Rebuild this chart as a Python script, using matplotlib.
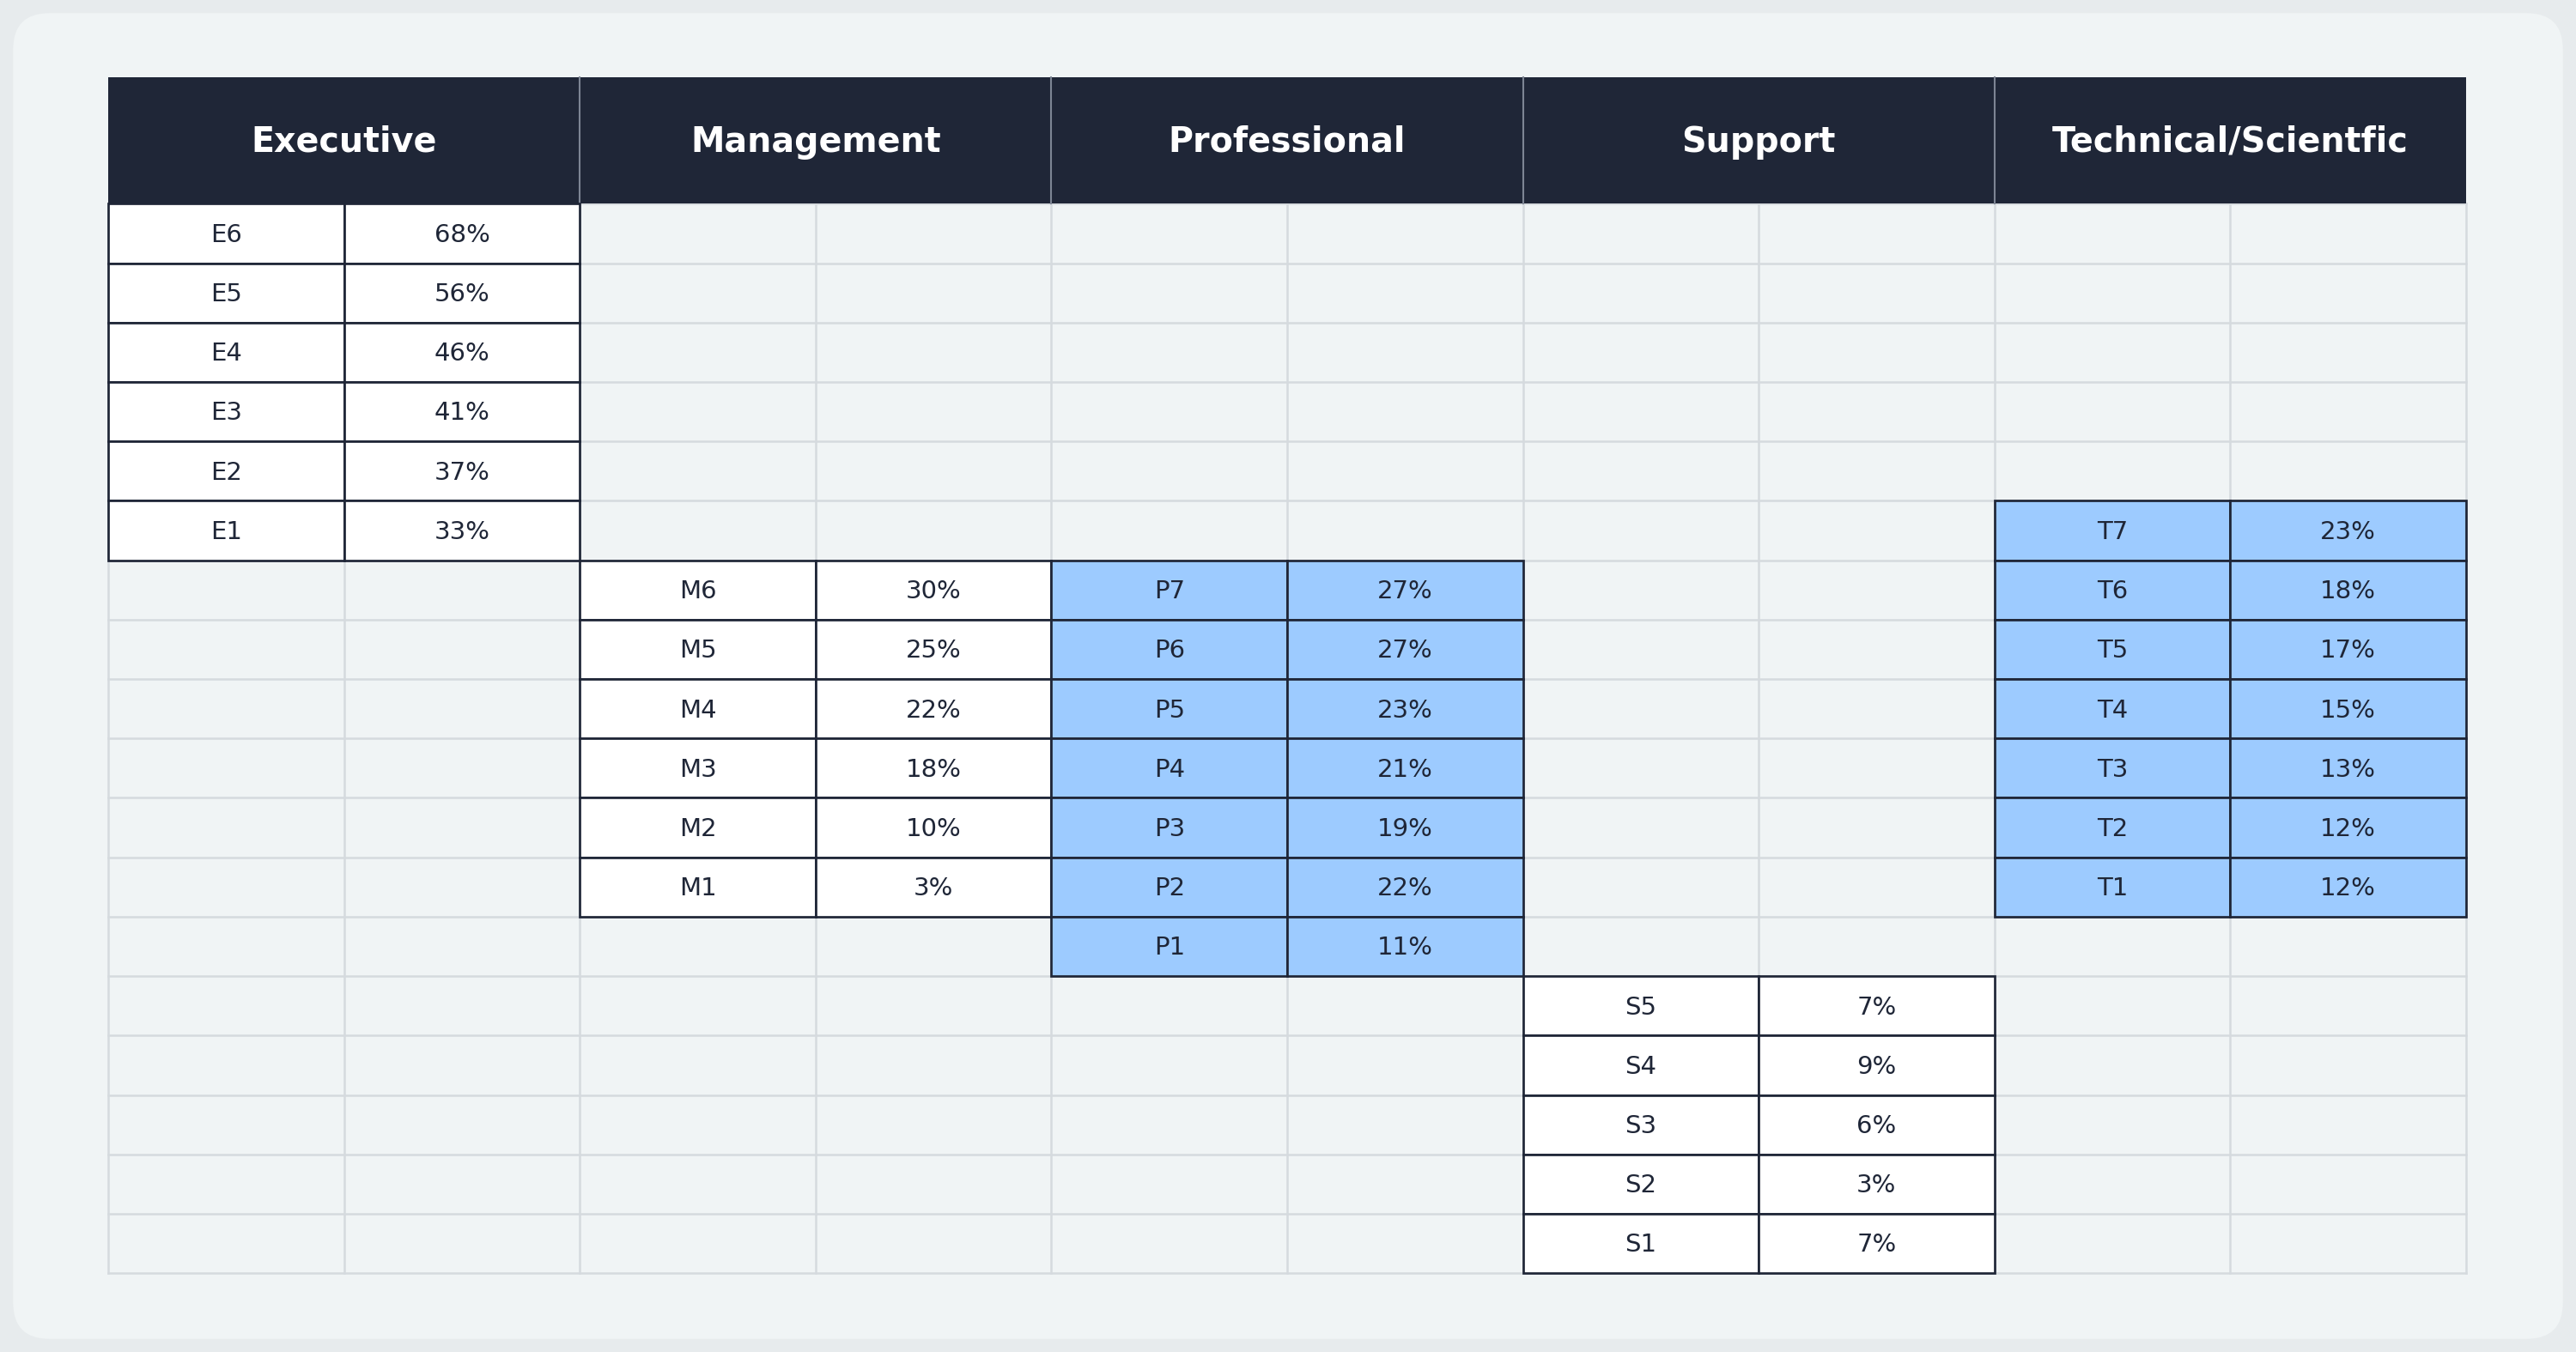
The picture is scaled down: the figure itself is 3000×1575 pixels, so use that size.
import matplotlib.pyplot as plt
from matplotlib.patches import Rectangle, FancyBboxPatch

# job families and their grade bands (top grade first)
families = ["Executive", "Management", "Professional", "Support", "Technical/Scientfic"]
exec_grades = ["E6", "E5", "E4", "E3", "E2", "E1"]
exec_values = ["68%", "56%", "46%", "41%", "37%", "33%"]
mgmt_grades = ["M6", "M5", "M4", "M3", "M2", "M1"]
mgmt_values = ["30%", "25%", "22%", "18%", "10%", "3%"]
prof_grades = ["P7", "P6", "P5", "P4", "P3", "P2", "P1"]
prof_values = ["27%", "27%", "23%", "21%", "19%", "22%", "11%"]
supp_grades = ["S5", "S4", "S3", "S2", "S1"]
supp_values = ["7%", "9%", "6%", "3%", "7%"]
tech_grades = ["T7", "T6", "T5", "T4", "T3", "T2", "T1"]
tech_values = ["23%", "18%", "17%", "15%", "13%", "12%", "12%"]

# (grades, values, first row, highlighted)
blocks = [
    (exec_grades, exec_values, 0, False),
    (mgmt_grades, mgmt_values, 6, False),
    (prof_grades, prof_values, 6, True),
    (supp_grades, supp_values, 13, False),
    (tech_grades, tech_values, 5, True),
]

W, H = 1568, 823
x0, x1 = 66, 1501
head_top, head_bot = 47, 124
n_rows = 18
row_h = (775 - head_bot) / n_rows
col_w = (x1 - x0) / 10

fig = plt.figure(figsize=(20, 10.5), dpi=150)
ax = fig.add_axes([0, 0, 1, 1])
ax.set_xlim(0, W)
ax.set_ylim(H, 0)
ax.axis("off")
fig.patch.set_facecolor("#e7ebed")
ax.add_patch(FancyBboxPatch((8, 8), W - 16, H - 16,
                            boxstyle="round,pad=0,rounding_size=22",
                            fc="#f0f4f5", ec="none"))

# faint grid for the empty body
for r in range(n_rows + 1):
    y = head_bot + r * row_h
    ax.plot([x0, x1], [y, y], color="#d5dade", lw=1.2, zorder=1)
for c in range(11):
    x = x0 + c * col_w
    ax.plot([x, x], [head_bot, 775], color="#d5dade", lw=1.2, zorder=1)

# header
ax.add_patch(Rectangle((x0, head_top), x1 - x0, head_bot - head_top,
                       fc="#1f2637", ec="none", zorder=2))
for i, name in enumerate(families):
    cx = x0 + (2 * i + 1) * col_w
    ax.text(cx, (head_top + head_bot) / 2 + 1, name, color="white",
            fontsize=19, fontweight="bold", ha="center", va="center", zorder=3)
    if i > 0:
        x = x0 + 2 * i * col_w
        ax.plot([x, x], [head_top, head_bot], color="#7d8594", lw=1, zorder=3)

# filled blocks
for fi, (grades, values, start, hl) in enumerate(blocks):
    fc = "#9dcbff" if hl else "white"
    for k, (g, v) in enumerate(zip(grades, values)):
        y = head_bot + (start + k) * row_h
        for j, txt in enumerate([g, v]):
            x = x0 + (2 * fi + j) * col_w
            ax.add_patch(Rectangle((x, y), col_w, row_h, fc=fc,
                                   ec="#1f2637", lw=1.3, zorder=4))
            ax.text(x + col_w / 2, y + row_h / 2 + 1, txt, fontsize=14,
                    color="#1f2637", ha="center", va="center", zorder=5)

fig.savefig("out.png", dpi=150)
